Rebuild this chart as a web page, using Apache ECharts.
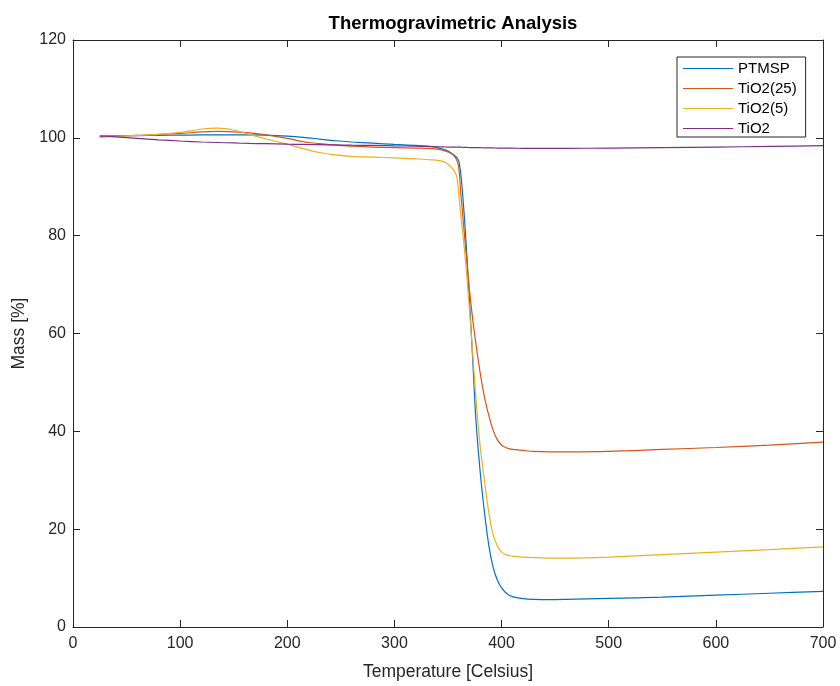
<!DOCTYPE html>
<html>
<head>
<meta charset="utf-8">
<script src="https://cdn.jsdelivr.net/npm/echarts@6/dist/echarts.min.js"></script>
<style>
html,body{margin:0;padding:0;background:#fff;}
#chart{width:840px;height:686px;}
</style>
</head>
<body>
<div id="chart"></div>
<script>
const seriesNames = ['PTMSP', 'TiO2(25)', 'TiO2(5)', 'TiO2'];
const temps = [25,40,60,80,100,120,135,150,165,180,200,215,230,245,260,280,300,320,335,345,350,355,358,360,362,364,366,368,370,373,376,380,384,388,392,396,400,405,410,420,430,445,460,500,550,600,650,700];
const ptmsp = [100.3,100.4,100.45,100.5,100.55,100.6,100.6,100.6,100.6,100.55,100.35,100.1,99.75,99.4,99.15,98.9,98.65,98.45,98.2,97.7,97.3,96.6,96.0,95.3,92.5,87.5,81.5,74.5,67,55,42.5,31.8,23.5,16.8,12.3,9.6,8.0,6.8,6.2,5.8,5.65,5.6,5.65,5.85,6.1,6.5,6.9,7.3];
const tio2_25 = [100.2,100.4,100.5,100.7,100.9,101.2,101.3,101.2,101.0,100.6,99.9,99.2,98.8,98.5,98.3,98.1,98.0,97.9,97.8,97.5,97.1,96.5,95.5,94.0,88.5,83.5,78.5,73.5,69.0,63.0,58.0,52.0,47.0,43.3,40.3,38.3,37.2,36.6,36.3,36.1,35.9,35.8,35.8,35.9,36.3,36.7,37.2,37.8];
const tio2_5 = [100.1,100.3,100.5,100.7,101.1,101.8,102.0,101.6,100.7,99.8,98.7,97.8,97.0,96.5,96.2,96.05,95.9,95.7,95.5,95.2,94.6,93.5,92.2,88.5,84.0,80.0,75.7,70.5,65.0,56.0,47.0,37.0,30.0,23.5,19.0,16.6,15.3,14.7,14.5,14.3,14.2,14.1,14.1,14.3,14.8,15.3,15.8,16.4];
const tio2 = [100.4,100.2,99.9,99.6,99.35,99.15,99.05,98.95,98.85,98.8,98.7,98.65,98.6,98.55,98.5,98.45,98.35,98.3,98.2,98.15,98.1,98.1,98.1,98.1,98.1,98.05,98.05,98.05,98.0,98.0,98.0,98.0,97.95,97.95,97.95,97.9,97.9,97.9,97.9,97.85,97.85,97.85,97.85,97.9,98.0,98.1,98.25,98.4];
const colors = ['#0072BD', '#D95319', '#EDB120', '#7E2F8E'];
const allValues = [ptmsp, tio2_25, tio2_5, tio2];

const chart = echarts.init(document.getElementById('chart'));
const axisColor = '#262626';
const font = 'Liberation Sans, Arial, Helvetica, sans-serif';

function mkX(pos, showLabel) {
  return {
    type: 'value', position: pos, min: 0, max: 700, interval: 100,
    axisLine: {show: true, onZero: false, lineStyle: {color: axisColor, width: 1}},
    axisTick: {show: true, inside: true, length: 7, lineStyle: {color: axisColor}},
    axisLabel: {show: showLabel, color: axisColor, fontSize: 16, fontFamily: font, margin: 9},
    splitLine: {show: false},
    name: showLabel ? 'Temperature [Celsius]' : '',
    nameLocation: 'middle', nameGap: 36,
    nameTextStyle: {color: axisColor, fontSize: 17.5, fontFamily: font}
  };
}
function mkY(pos, showLabel) {
  return {
    type: 'value', position: pos, min: 0, max: 120, interval: 20,
    axisLine: {show: true, onZero: false, lineStyle: {color: axisColor, width: 1}},
    axisTick: {show: true, inside: true, length: 7, lineStyle: {color: axisColor}},
    axisLabel: {show: showLabel, color: axisColor, fontSize: 16, fontFamily: font, margin: 7},
    splitLine: {show: false},
    name: showLabel ? 'Mass [%]' : '',
    nameLocation: 'middle', nameGap: 43,
    nameTextStyle: {color: axisColor, fontSize: 17.5, fontFamily: font}
  };
}

chart.setOption({
  animation: false,
  backgroundColor: '#fff',
  title: {
    text: 'Thermogravimetric Analysis', left: 448, top: 9, textAlign: 'center',
    textStyle: {fontSize: 18.5, fontWeight: 'bold', color: '#000', fontFamily: font}
  },
  grid: {left: 73, right: 17, top: 40, bottom: 56, containLabel: false},
  xAxis: [mkX('bottom', true), mkX('top', false)],
  yAxis: [mkY('left', true), mkY('right', false)],
  legend: {
    orient: 'vertical', left: 677, top: 57,
    data: seriesNames,
    icon: 'rect', itemWidth: 50, itemHeight: 1, itemGap: 5,
    padding: [4, 9, 1, 6],
    backgroundColor: '#fff', borderColor: axisColor, borderWidth: 1, borderRadius: 0,
    textStyle: {fontSize: 15, color: '#000', fontFamily: font, padding: [0, 0, 0, 0]}
  },
  series: seriesNames.map((n, k) => ({
    name: n, type: 'line', xAxisIndex: 0, yAxisIndex: 0,
    data: temps.map((t, i) => [t, allValues[k][i]]),
    showSymbol: false, smooth: 0.3,
    lineStyle: {color: colors[k], width: 1.2},
    itemStyle: {color: colors[k]}
  }))
});
</script>
</body>
</html>
